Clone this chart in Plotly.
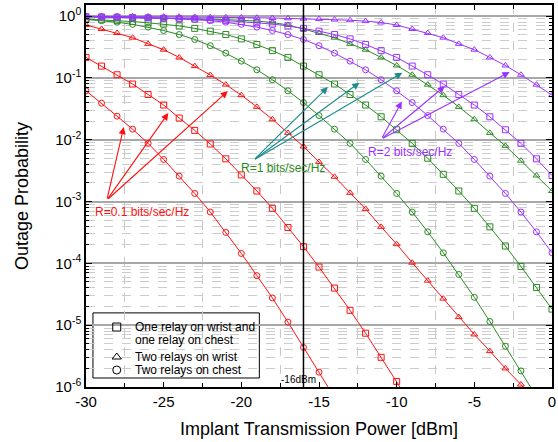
import numpy as np
import plotly.graph_objects as go

# Implant transmission power [dBm]
power_dbm = list(range(-30, 1))

# Outage probability, stored as log10 exponents (None = below 1e-6)
red_square_log = [-0.67, -0.81, -0.95, -1.10, -1.27, -1.44, -1.65, -1.85, -2.07, -2.31,
                  -2.57, -2.83, -3.11, -3.42, -3.73, -4.06, -4.40, -4.76, -5.13, -5.52,
                  -5.91, -6.31, None, None, None, None, None, None, None, None, None]
red_triangle_log = [-0.145, -0.21, -0.275, -0.35, -0.45, -0.545, -0.67, -0.81, -0.955, -1.11,
                    -1.28, -1.47, -1.67, -1.89, -2.11, -2.36, -2.60, -2.86, -3.12, -3.41,
                    -3.69, -3.99, -4.28, -4.57, -4.87, -5.15, -5.42, -5.70, -5.96, -6.24, -6.52]
red_circle_log = [-1.21, -1.41, -1.62, -1.83, -2.06, -2.32, -2.59, -2.87, -3.17, -3.50,
                  -3.84, -4.20, -4.56, -4.95, -5.36, -5.76, -6.17, None, None, None,
                  None, None, None, None, None, None, None, None, None, None, None]
green_square_log = [-0.05, -0.06, -0.075, -0.09, -0.11, -0.13, -0.16, -0.20, -0.245, -0.30,
                    -0.37, -0.46, -0.56, -0.67, -0.81, -0.95, -1.10, -1.27, -1.44, -1.63,
                    -1.84, -2.06, -2.30, -2.56, -2.83, -3.11, -3.41, -3.72, -4.05, -4.39, -4.74]
green_triangle_log = [-0.015, -0.018, -0.021, -0.024, -0.028, -0.032, -0.037, -0.043, -0.05, -0.058,
                      -0.068, -0.082, -0.105, -0.145, -0.21, -0.275, -0.35, -0.45, -0.545, -0.67,
                      -0.80, -0.95, -1.11, -1.28, -1.47, -1.67, -1.89, -2.10, -2.34, -2.58, -2.83]
green_circle_log = [-0.055, -0.075, -0.10, -0.135, -0.18, -0.235, -0.30, -0.38, -0.48, -0.60,
                    -0.73, -0.87, -1.03, -1.21, -1.40, -1.61, -1.83, -2.06, -2.32, -2.59,
                    -2.87, -3.17, -3.49, -3.83, -4.18, -4.55, -4.94, -5.34, -5.74, -6.15, -6.56]
purple_square_log = [-0.012, -0.015, -0.019, -0.024, -0.03, -0.037, -0.045, -0.05, -0.06, -0.075,
                     -0.09, -0.11, -0.13, -0.16, -0.20, -0.245, -0.30, -0.37, -0.46, -0.56,
                     -0.67, -0.81, -0.95, -1.10, -1.27, -1.44, -1.63, -1.84, -2.06, -2.31, -2.58]
purple_triangle_log = [-0.004, -0.005, -0.006, -0.007, -0.008, -0.01, -0.012, -0.015, -0.018, -0.021,
                       -0.024, -0.028, -0.032, -0.037, -0.043, -0.05, -0.058, -0.068, -0.082, -0.105,
                       -0.145, -0.21, -0.275, -0.35, -0.45, -0.545, -0.67, -0.80, -0.95, -1.11, -1.28]
purple_circle_log = [-0.008, -0.011, -0.015, -0.02, -0.027, -0.035, -0.045, -0.055, -0.075, -0.10,
                     -0.135, -0.18, -0.235, -0.30, -0.38, -0.48, -0.60, -0.73, -0.87, -1.03,
                     -1.21, -1.40, -1.61, -1.83, -2.06, -2.32, -2.59, -2.87, -3.17, -3.49, -3.83]

legend_lines = ["One relay on wrist and", "one relay on chest",
                "Two relays on wrist", "Two relays on chest"]
legend_symbols = ["square-open", "triangle-up-open", "circle-open"]
rate_labels = ["R=0.1 bits/sec/Hz", "R=1 bits/sec/Hz", "R=2 bits/sec/Hz"]
y_tick_exponents = [0, -1, -2, -3, -4, -5, -6]
x_tick_values = [-30, -25, -20, -15, -10, -5, 0]
marker_line_dbm = -16


def to_prob(vals):
    return [None if v is None else 10 ** v for v in vals]


RED = "#ff1010"
GREEN = "#2a8a22"
PURPLE = "#9a32ff"
TEAL = "#1a8c8c"
FONT = "Liberation Sans, Arial, sans-serif"

series = [
    (red_square_log, RED, "square-open"),
    (red_triangle_log, RED, "triangle-up-open"),
    (red_circle_log, RED, "circle-open"),
    (green_square_log, GREEN, "square-open"),
    (green_triangle_log, GREEN, "triangle-up-open"),
    (green_circle_log, GREEN, "circle-open"),
    (purple_square_log, PURPLE, "square-open"),
    (purple_triangle_log, PURPLE, "triangle-up-open"),
    (purple_circle_log, PURPLE, "circle-open"),
]

fig = go.Figure()
for vals, col, sym in series:
    fig.add_trace(go.Scatter(
        x=power_dbm, y=to_prob(vals), mode="lines+markers",
        line=dict(color=col, width=1),
        marker=dict(symbol=sym, size=6, color=col, line=dict(width=1, color=col)),
        showlegend=False, connectgaps=False, hoverinfo="skip",
    ))

# ---- hand-built legend (box + symbols + text), in plot-area fractions ----
LEG_X0, LEG_X1, LEG_Y0, LEG_Y1 = 0.0149, 0.372, 0.0236, 0.194
SYM_X = 0.066
TXT_X = 0.100
row_y = [0.157, 0.1230, 0.0785, 0.0445]
sym_rows = [row_y[0], row_y[2], row_y[3]]

fig.add_shape(type="rect", xref="paper", yref="paper", x0=LEG_X0, x1=LEG_X1, y0=LEG_Y0, y1=LEG_Y1,
              fillcolor="white", line=dict(color="black", width=1), layer="between")
fig.add_trace(go.Scatter(
    x=[SYM_X] * 3, y=sym_rows, mode="markers", xaxis="x2", yaxis="y2",
    marker=dict(symbol=legend_symbols, size=8, color="black", line=dict(width=1, color="black")),
    showlegend=False, hoverinfo="skip",
))
for txt, ry in zip(legend_lines, row_y):
    fig.add_annotation(x=TXT_X, y=ry, xref="paper", yref="paper", text=txt, showarrow=False,
                       xanchor="left", yanchor="middle",
                       font=dict(size=12, color="black", family=FONT))

# vertical line at -16 dBm
fig.add_shape(type="line", x0=marker_line_dbm, x1=marker_line_dbm, y0=0, y1=1,
              xref="x", yref="paper", line=dict(color="black", width=1.5))
fig.add_annotation(x=-16.3, y=-5.875, xref="x", yref="y", text="-16dBm", showarrow=False,
                   font=dict(size=10, color="black", family=FONT))

# rate labels
fig.add_annotation(x=-26.39, y=-3.17, xref="x", yref="y", text=rate_labels[0], showarrow=False,
                   font=dict(size=12, color=RED, family=FONT))
fig.add_annotation(x=-17.33, y=-2.46, xref="x", yref="y", text=rate_labels[1], showarrow=False,
                   font=dict(size=12, color=GREEN, family=FONT))
fig.add_annotation(x=-9.16, y=-2.20, xref="x", yref="y", text=rate_labels[2], showarrow=False,
                   font=dict(size=12, color=PURPLE, family=FONT))

# arrows: tail (ax, ay) -> head (x, y), log units for y
arrows = [
    (RED, (-28.66, -2.977), [(-27.57, -1.796), (-24.70, -1.57), (-20.87, -1.214)]),
    (TEAL, (-19.21, -2.33), [(-14.43, -1.149), (-12.40, -1.079), (-9.64, -0.917)]),
    (PURPLE, (-10.98, -1.99), [(-9.67, -1.383), (-6.90, -1.133), (-2.73, -0.906)]),
]
for col, (tx, ty), heads in arrows:
    for hx, hy in heads:
        fig.add_annotation(x=hx, y=hy, ax=tx, ay=ty, xref="x", yref="y", axref="x", ayref="y",
                           text="", showarrow=True, arrowhead=2, arrowsize=1.3, arrowwidth=1.1,
                           arrowcolor=col, standoff=0)

minor_y = [k * 10.0 ** e for e in range(-6, 0) for k in range(2, 10)]

xaxis_cfg = dict(
    range=[-30, 0], tickvals=x_tick_values, ticktext=[str(v) for v in x_tick_values],
    ticks="inside", ticklen=5, tickcolor="black", tickwidth=1,
    showline=True, linecolor="black", linewidth=1.5, mirror="allticks",
    showgrid=False, zeroline=False, ticklabeloverflow="allow",
    minor=dict(tickvals=[-27.5, -22.5, -17.5, -12.5, -7.5, -2.5], ticks="inside", ticklen=4,
               tickcolor="black", showgrid=True, gridcolor="#c8c8c8", griddash="dash", gridwidth=1),
    tickfont=dict(size=15, color="black", family=FONT),
    title=dict(text="Implant Transmission Power [dBm]", font=dict(size=18, color="black", family=FONT),
               standoff=14),
)
yaxis_cfg = dict(
    type="log", range=[-6, 0.178],
    tickvals=[10.0 ** e for e in y_tick_exponents],
    ticktext=["10<sup>%d</sup>" % e for e in y_tick_exponents],
    ticks="inside", ticklen=6, tickcolor="black", tickwidth=1,
    showline=True, linecolor="black", linewidth=1.5, mirror="allticks",
    showgrid=True, gridcolor="#a8a8a8", gridwidth=1.5, zeroline=False,
    minor=dict(tickvals=minor_y, ticks="inside", ticklen=3, tickcolor="black",
               showgrid=True, gridcolor="#cccccc", griddash="dash", gridwidth=1),
    tickfont=dict(size=15, color="black", family=FONT),
    title=dict(text="Outage Probability", font=dict(size=18, color="black", family=FONT), standoff=22),
)

fig.update_layout(
    width=558, height=442,
    margin=dict(l=86, r=2, t=5, b=55),
    plot_bgcolor="white", paper_bgcolor="white",
    font=dict(family=FONT, color="black"),
    showlegend=False,
    xaxis=xaxis_cfg,
    yaxis=yaxis_cfg,
    xaxis2=dict(overlaying="x", range=[0, 1], visible=False, fixedrange=True),
    yaxis2=dict(overlaying="y", range=[0, 1], visible=False, fixedrange=True),
)

fig.write_html("out.html", config={"displayModeBar": False},
               post_script="document.body.style.margin='0px';")
